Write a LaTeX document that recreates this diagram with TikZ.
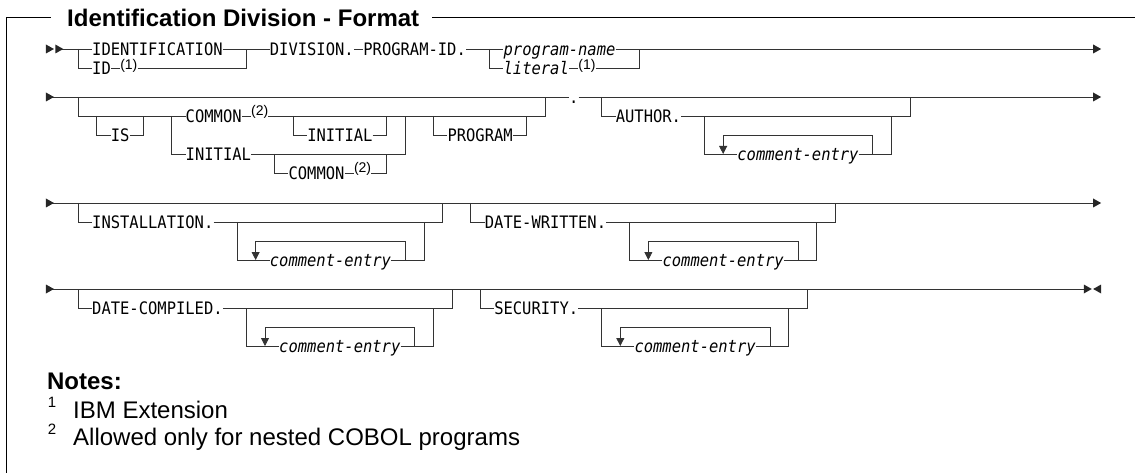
\documentclass[tikz,border=0pt]{standalone}
\usepackage{fontspec}
\setmainfont{Liberation Sans}
\newfontfamily\rrfont[FakeStretch=0.9]{DejaVu Sans Mono}
\usetikzlibrary{arrows.meta}

\tikzset{
	rtri/.pic={\fill[black!85] (-4pt,4.5pt) -- (4pt,0pt) -- (-4pt,-4.5pt) -- cycle;},
	ltri/.pic={\fill[black!85] (4pt,4.5pt) -- (-4pt,0pt) -- (4pt,-4.5pt) -- cycle;}
}

\begin{document}
\begin{tikzpicture}[x=9.35pt,y=-1pt,
	rail/.style={line width=0.8pt,draw=black!80},
	kw/.style={font=\rrfont\fontsize{17.2}{18}\selectfont,inner sep=0pt,anchor=west,text height=12.5pt,text depth=0pt},
	var/.style={kw,font=\rrfont\itshape\fontsize{17.2}{18}\selectfont},
	sup/.style={font=\fontsize{14}{14}\selectfont,inner sep=0pt,anchor=west,text height=10pt,text depth=0pt},
	head/.style={font=\bfseries\fontsize{24}{24}\selectfont,inner sep=0pt,anchor=west,text height=17.2pt,text depth=0pt},
	note/.style={font=\fontsize{24}{24}\selectfont,inner sep=0pt,anchor=west,text height=17.2pt,text depth=0pt},
	notekey/.style={font=\fontsize{15}{15}\selectfont,inner sep=0pt,anchor=west}]
	\useasboundingbox (-8.3422,0) rectangle (113.048,473);

	% frame and title
	\node[head] (title) at (-1.18,18) {Identification Division - Format};
	\draw[line width=1pt] (-7.594,473) -- (-7.594,18) -- ([xshift=-16pt]title.west);
	\draw[line width=1pt] ([xshift=13pt]title.east) -- (113.048,18);

	% IDENTIFICATION DIVISION. PROGRAM-ID.
	\node[kw] (ident) at (1.5,49) {IDENTIFICATION};
	\node[kw] (id) at (1.5,68) {ID};
	\node[sup] (n1a) at (4.5,64.5) {(1)};
	\node[kw] (div) at (20.5,49) {DIVISION.};
	\node[kw] (pgmid) at (30.5,49) {PROGRAM-ID.};
	\node[var] (pname) at (45.5,49) {program-name};
	\node[var] (lit) at (45.5,68) {literal};
	\node[sup] (n1b) at (53.5,64.5) {(1)};
	\draw[rail] (-2,49) -- (ident.west);
	\draw[rail] (ident.east) -- (div.west);
	\draw[rail] (0,49) |- (id.west);
	\draw[rail] (id.east) -- (id.east -| n1a.west);
	\draw[rail] (n1a.east |- id.east) -| (18,49);
	\draw[rail] (div.east) -- (pgmid.west);
	\draw[rail] (pgmid.east) -- (pname.west);
	\draw[rail] (pname.east) -- (109,49);
	\draw[rail] (44,49) |- (lit.west);
	\draw[rail] (lit.east) -- (lit.east -| n1b.west);
	\draw[rail] (n1b.east |- lit.east) -| (60,49);
	\pic at (-3,49) {rtri};
	\pic at (-2,49) {rtri};
	\pic at (109,49) {rtri};

	% IS COMMON INITIAL PROGRAM .
	\node[kw] (dot) at (52.5,97) {.};
	\node[kw] (is) at (3.5,135) {IS};
	\node[kw] (com1) at (11.5,116) {COMMON};
	\node[sup] (n2a) at (18.5,111) {(2)};
	\node[kw] (ini1) at (24.5,135) {INITIAL};
	\node[kw] (ini2) at (11.5,154) {INITIAL};
	\node[kw] (com2) at (22.5,173) {COMMON};
	\node[sup] (n2b) at (29.5,168) {(2)};
	\node[kw] (prog) at (39.5,135) {PROGRAM};
	\draw[rail] (-3,97) -- (dot.west);
	\draw[rail] (dot.east) -- (109,97);
	\draw[rail] (0,97) |- (com1.west);
	\draw[rail] (com1.east) -- (com1.east -| n2a.west);
	\draw[rail] (n2a.east |- com1.east) -| (50,97);
	\draw[rail] (2,116) |- (is.west);
	\draw[rail] (is.east) -| (7,116);
	\draw[rail] (10,116) |- (ini2.west);
	\draw[rail] (ini2.east) -| (35,116);
	\draw[rail] (23,116) |- (ini1.west);
	\draw[rail] (ini1.east) -| (33,116);
	\draw[rail] (21,154) |- (com2.west);
	\draw[rail] (com2.east) -- (com2.east -| n2b.west);
	\draw[rail] (n2b.east |- com2.east) -| (33,154);
	\draw[rail] (38,116) |- (prog.west);
	\draw[rail] (prog.east) -| (48,116);
	\pic at (-3,97) {rtri};
	\pic at (109,97) {rtri};

	% optional paragraphs with repeated comment-entry
	\foreach \nm/\lft/\row/\word/\n in {author/56/97/AUTHOR./7, instal/0/203/INSTALLATION./13,
		written/42/203/DATE-WRITTEN./13, compiled/0/289/DATE-COMPILED./14, security/43/289/SECURITY./9} {
		\pgfmathsetmacro{\xin}{\lft+\n+4}
		\pgfmathsetmacro{\xarr}{\xin+2}
		\node[kw] (\nm-kw) at (\lft+1.5,\row+19) {\word};
		\node[var] (\nm-ce) at (\xarr+1.5,\row+57) {comment-entry};
		\draw[rail] (\lft,\row) |- (\nm-kw.west);
		\draw[rail] (\nm-kw.east) -| (\xin+22,\row);
		\draw[rail] (\xin,\row+19) |- (\nm-ce.west);
		\draw[rail] (\nm-ce.east) -| (\xin+20,\row+19);
		\draw[rail,-{Triangle[length=8pt,width=8pt]}] (\xin+18,\row+57) |- (\xarr,\row+38) -- (\xarr,\row+57);
	}

	% row ends
	\draw[rail] (-3,203) -- (109,203);
	\pic at (-3,203) {rtri};
	\pic at (109,203) {rtri};
	\draw[rail] (-3,289) -- (108,289);
	\pic at (-3,289) {rtri};
	\pic at (108,289) {rtri};
	\pic at (109,289) {ltri};

	% notes
	\node[head] (notes) at (-3.32,381) {Notes:};
	\node[notekey] (key1) at (-3.25,402) {1};
	\node[note] (note1) at (-0.535,410) {IBM Extension};
	\node[notekey] (key2) at (-3.25,429) {2};
	\node[note] (note2) at (-0.535,437) {Allowed only for nested COBOL programs};
\end{tikzpicture}
\end{document}
